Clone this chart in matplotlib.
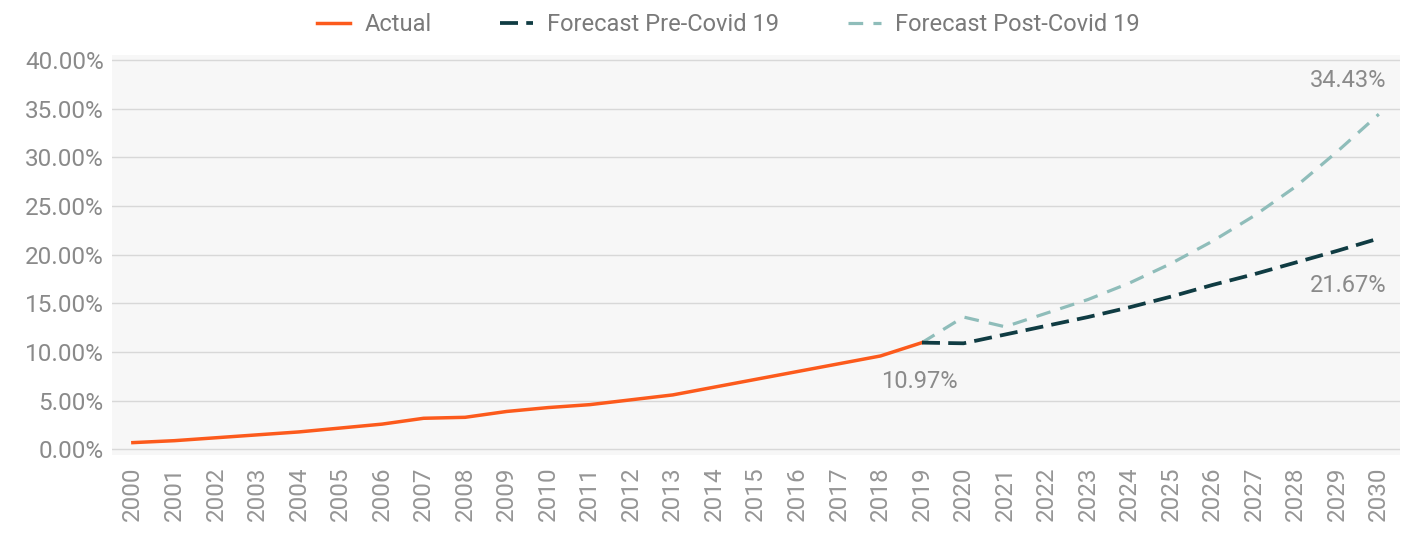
import matplotlib.pyplot as plt
from matplotlib.ticker import FuncFormatter

years = list(range(2000, 2031))
actual = [0.7, 0.9, 1.2, 1.5, 1.8, 2.2, 2.6, 3.2, 3.3, 3.9,
          4.3, 4.6, 5.1, 5.6, 6.4, 7.2, 8.0, 8.8, 9.6, 10.97]
pre_covid = [10.97, 10.9, 11.8, 12.7, 13.6, 14.6, 15.7, 16.9, 18.0, 19.2, 20.4, 21.67]
post_covid = [10.97, 13.6, 12.6, 14.0, 15.4, 17.1, 19.1, 21.4, 24.0, 27.0, 30.6, 34.43]

plt.rcParams['font.family'] = ['Roboto', 'DejaVu Sans']
grey = '#8a8a8a'

fig = plt.figure(figsize=(14.01, 5.35), dpi=100)
ax = fig.add_axes([0.080, 0.149, 0.919, 0.748])
ax.set_facecolor('#f7f7f7')

idx = list(range(len(years)))
ax.plot(idx[:len(actual)], actual, color='#fc5a1c', lw=2.5, label='Actual', zorder=3)
start = len(actual) - 1
ax.plot(idx[start:start + len(pre_covid)], pre_covid, color='#103c43', lw=2.7,
        dashes=(4.8, 2.2), label='Forecast Pre-Covid 19', zorder=3)
ax.plot(idx[start:start + len(post_covid)], post_covid, color='#8fbdba', lw=2.3,
        dashes=(4.6, 3.2), label='Forecast Post-Covid 19', zorder=2)

ax.annotate(f'{actual[-1]:.2f}%', (start, actual[-1]), xytext=(-2, -36),
            textcoords='offset points', ha='center', va='bottom', color=grey, fontsize=17)
ax.annotate(f'{pre_covid[-1]:.2f}%', (idx[-1], pre_covid[-1]), xytext=(-22, -34),
            textcoords='offset points', ha='center', va='center', color=grey, fontsize=17)
ax.annotate(f'{post_covid[-1]:.2f}%', (idx[-1], post_covid[-1]), xytext=(-22, 24),
            textcoords='offset points', ha='center', va='center', color=grey, fontsize=17)

ax.set_xlim(-0.5, len(years) - 0.5)
ax.set_ylim(-0.6, 40.5)
ax.set_yticks(range(0, 41, 5))
ax.yaxis.set_major_formatter(FuncFormatter(lambda v, p: f'{v:.2f}%'))
ax.set_xticks(idx)
ax.set_xticklabels([str(y) for y in years], rotation=90)
ax.tick_params(axis='both', length=0, colors=grey, labelsize=17.5)
ax.tick_params(axis='x', pad=8, labelcolor='#959595')
ax.tick_params(axis='y', pad=6)
ax.grid(axis='y', color='#d8d8d8', lw=1)
ax.set_axisbelow(True)
for s in ax.spines.values():
    s.set_visible(False)

leg = fig.legend(loc='upper center', bbox_to_anchor=(0.52, 1.015), ncol=3, frameon=False,
                 fontsize=17, handlelength=1.4, columnspacing=2.9, handletextpad=0.6)
for t in leg.get_texts():
    t.set_color('#7a7a7a')

fig.savefig('out.png', dpi=100)
